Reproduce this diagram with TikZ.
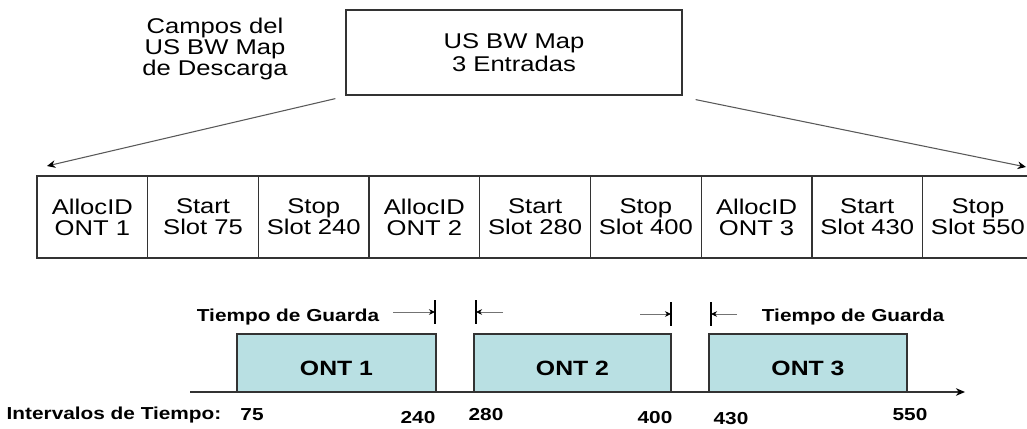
\documentclass[tikz,border=0pt]{standalone}
\usepackage{fontspec}
\setmainfont{Liberation Sans}[FakeStretch=1.2]
\usetikzlibrary{positioning,arrows.meta}
\definecolor{ontfill}{HTML}{B9E0E3}
\tikzset{
  field/.style={draw=black!80, line width=0.9pt, minimum width=83pt,
    minimum height=61.5pt, inner sep=0pt, outer sep=0pt, align=center,
    font=\fontsize{16}{15.75}\selectfont},
  ontbox/.style={draw=black!80, fill=ontfill, line width=0.9pt,
    minimum height=43.5pt, inner sep=0pt, outer sep=0pt, anchor=south west,
    text height=19pt, text depth=0pt,
    font=\bfseries\fontsize{15.5}{16}\selectfont},
  maplink/.style={draw=black!65, line width=0.8pt,
    -{Stealth[length=2.2mm,width=2mm,black]}},
  gmark/.style={line width=1pt},
  glink/.style={draw=black!55, line width=0.7pt,
    -{Stealth[length=1.6mm,width=1.5mm,black]}},
  tlabel/.style={font=\bfseries\fontsize{13}{14}\selectfont}
}

\begin{document}
\begin{tikzpicture}[x=0.75pt,y=-0.75pt]
  \useasboundingbox (0,0) rectangle (1027,428);
  % map header
  \node[draw=black!80, line width=0.9pt, minimum width=252pt, minimum height=63.75pt,
    align=center, font=\fontsize{16}{17}\selectfont] (map) at (514,52.5)
    {US BW Map\\3 Entradas};
  \node[align=center, font=\fontsize{16}{16}\selectfont] (campos) at (215,49)
    {Campos del\\US BW Map\\de Descarga};
  % the nine fields
  \foreach \txt [count=\i] in {{AllocID\\ONT 1},{Start\\Slot 75},{Stop\\Slot 240},
      {AllocID\\ONT 2},{Start\\Slot 280},{Stop\\Slot 400},
      {AllocID\\ONT 3},{Start\\Slot 430},{Stop\\Slot 550}}
    \node[field, anchor=north west] (f\i) at ({37+110.7*(\i-1)},176) {\txt};
  \coordinate (ltip) at (47,166);
  \coordinate (rtip) at (1026,167);
  \draw[maplink] ([shift={(-10,3)}]map.south west) -- (ltip);
  \draw[maplink] ([shift={(13,4)}]map.south east) -- (rtip);
  % time line
  \coordinate (axs) at (190,392);
  \coordinate (axe) at (965,392);
  \node[ontbox, minimum width=149.25pt] (ont1) at (237,392) {ONT 1};
  \node[ontbox, minimum width=147.75pt] (ont2) at (474,392) {ONT 2};
  \node[ontbox, minimum width=148.5pt] (ont3) at (709,392) {ONT 3};
  \draw[line width=0.9pt, black!80, -{Stealth[length=2.4mm,width=2mm,black]}] (axs) -- (axe);
  % guard marks
  \coordinate (g1) at ([shift={(-1,-22)}]ont1.north east);
  \coordinate (g2) at ([shift={(2,-22)}]ont2.north west);
  \coordinate (g3) at ([shift={(0,-20)}]ont2.north east);
  \coordinate (g4) at ([shift={(2,-20)}]ont3.north west);
  \foreach \g in {g1,g2,g3,g4}
    \draw[gmark] ([shift={(0,-12)}]\g) -- ([shift={(0,12)}]\g);
  \draw[glink] ([shift={(-42,0)}]g1) -- (g1);
  \draw[glink] ([shift={(27,0)}]g2) -- (g2);
  \draw[glink] ([shift={(-31,0)}]g3) -- (g3);
  \draw[glink] ([shift={(26,0)}]g4) -- (g4);
  \node[tlabel] (guard1) at (288,317) {Tiempo de Guarda};
  \node[tlabel] (guard2) at (853,317) {Tiempo de Guarda};
  % interval values
  \node[tlabel, anchor=west] (tint) at (2,415) {Intervalos de Tiempo:};
  \foreach \v/\x/\y in {75/252/415, 240/418/418, 280/486/415,
      400/655/418, 430/731/419, 550/910/415}
    \node[tlabel] (t\v) at (\x,\y) {\v};
\end{tikzpicture}
\end{document}
